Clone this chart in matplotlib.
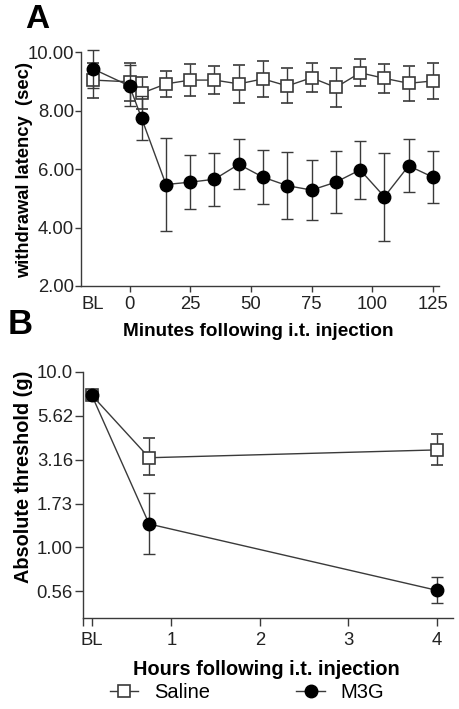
import matplotlib
matplotlib.use("Agg")
import matplotlib.pyplot as plt
import numpy as np
from matplotlib.lines import Line2D

plt.rcParams['font.family'] = ['Liberation Sans', 'DejaVu Sans']

# ---------- Panel A data ----------
a_times = [-15, 0, 5, 15, 25, 35, 45, 55, 65, 75, 85, 95, 105, 115, 125]
a_saline = [9.04, 8.98, 8.59, 8.91, 9.04, 9.04, 8.91, 9.08, 8.84, 9.12, 8.79, 9.29, 9.10, 8.93, 9.01]
a_saline_err = [0.60, 0.65, 0.55, 0.45, 0.55, 0.47, 0.65, 0.62, 0.60, 0.50, 0.68, 0.46, 0.50, 0.60, 0.63]
a_m3g = [9.42, 8.84, 7.73, 5.47, 5.55, 5.65, 6.16, 5.72, 5.43, 5.28, 5.55, 5.97, 5.05, 6.11, 5.72]
a_m3g_err = [0.65, 0.70, 0.75, 1.58, 0.93, 0.90, 0.85, 0.93, 1.15, 1.02, 1.05, 1.00, 1.50, 0.90, 0.88]
a_xticks = [-15, 0, 25, 50, 75, 100, 125]
a_xticklabels = ['BL', '0', '25', '50', '75', '100', '125']
a_yticks = [2, 4, 6, 8, 10]
a_yticklabels = ['2.00', '4.00', '6.00', '8.00', '10.00']

# ---------- Panel B data ----------
b_hours = [0.1, 0.75, 4]
b_saline = [7.38, 3.24, 3.59]
b_saline_lo = [7.0, 2.57, 2.95]
b_saline_hi = [7.8, 4.19, 4.43]
b_m3g = [7.40, 1.36, 0.57]
b_m3g_lo = [7.0, 0.916, 0.48]
b_m3g_hi = [7.8, 2.05, 0.676]
b_xticks = [0, 0.1, 1, 2, 3, 4]
b_xticklabels = ['', 'BL', '1', '2', '3', '4']
b_yticks = [10.0, 5.62, 3.16, 1.778, 1.00, 0.5623]
b_yticklabels = ['10.0', '5.62', '3.16', '1.73', '1.00', '0.56']

W, H = 459, 709
fig = plt.figure(figsize=(W / 100, H / 100), dpi=100)

LC = '#3a3a3a'
tick_fs = 13.3

def style(ax, tlen):
    for s in ['top', 'right']:
        ax.spines[s].set_visible(False)
    for s in ['left', 'bottom']:
        ax.spines[s].set_color(LC)
        ax.spines[s].set_linewidth(1.0)
    ax.tick_params(direction='out', length=tlen, width=1.0, color=LC,
                   labelsize=tick_fs, labelcolor='#222222')

# Panel A
axA = fig.add_axes([81 / W, 1 - 286 / H, (439 - 81) / W, (286 - 52) / H])
axA.errorbar(a_times, a_saline, yerr=a_saline_err, fmt='-s', color=LC, lw=1.0,
             ms=8, mfc='white', mec=LC, mew=1.2, ecolor=LC, elinewidth=1.0,
             capsize=4, capthick=1.0, clip_on=False, zorder=3, label='Saline')
axA.errorbar(a_times, a_m3g, yerr=a_m3g_err, fmt='-o', color=LC, lw=1.0,
             ms=9, mfc='black', mec='black', ecolor=LC, elinewidth=1.0,
             capsize=4, capthick=1.0, clip_on=False, zorder=4, label='M3G')
axA.set_xlim(-20, 127.5)
axA.set_ylim(2, 10)
axA.set_xticks(a_xticks)
axA.set_xticklabels(a_xticklabels)
axA.set_yticks(a_yticks)
axA.set_yticklabels(a_yticklabels)
style(axA, 4)
axA.tick_params(axis='y', pad=1)
axA.tick_params(axis='x', pad=3)
axA.xaxis.get_major_ticks()[0].tick1line.set_visible(False)
axA.set_xlabel('Minutes following i.t. injection', fontsize=13.6, fontweight='bold')
axA.xaxis.set_label_coords(0.494, (286 - 323) / 234)
axA.set_ylabel('withdrawal latency  (sec)', fontsize=13.2, fontweight='bold')
axA.yaxis.set_label_coords((33 - 81) / 358, (286 - 170) / 234)
fig.text(25 / W, 1 - 20 / H, 'A', fontsize=24, fontweight='bold', va='center', ha='left')

# Panel B
axB = fig.add_axes([82.7 / W, 1 - 618.3 / H, (453 - 82.7) / W, (618.3 - 371.7) / H])
yerr_s = [np.array(b_saline) - np.array(b_saline_lo), np.array(b_saline_hi) - np.array(b_saline)]
yerr_m = [np.array(b_m3g) - np.array(b_m3g_lo), np.array(b_m3g_hi) - np.array(b_m3g)]
axB.errorbar(b_hours, b_saline, yerr=yerr_s, fmt='-s', color=LC, lw=1.0,
             ms=9, mfc='white', mec=LC, mew=1.2, ecolor=LC, elinewidth=1.0,
             capsize=4, capthick=1.0, clip_on=False, zorder=3)
axB.errorbar(b_hours, b_m3g, yerr=yerr_m, fmt='-o', color=LC, lw=1.0,
             ms=9, mfc='black', mec='black', ecolor=LC, elinewidth=1.0,
             capsize=4, capthick=1.0, clip_on=False, zorder=4)
axB.set_yscale('log')
axB.set_xlim(0, 4.18)
axB.set_ylim(10 ** -0.403, 10.0)
axB.set_xticks(b_xticks)
axB.set_xticklabels(b_xticklabels)
axB.set_yticks(b_yticks)
axB.set_yticklabels(b_yticklabels)
axB.yaxis.set_minor_locator(matplotlib.ticker.NullLocator())
style(axB, 6)
axB.tick_params(axis='y', pad=1)
axB.tick_params(axis='x', pad=4)
axB.set_xlabel('Hours following i.t. injection', fontsize=14.3, fontweight='bold')
axB.xaxis.set_label_coords(0.495, (618.3 - 660) / 246.6)
axB.set_ylabel('Absolute threshold (g)', fontsize=14.3, fontweight='bold')
axB.yaxis.set_label_coords((33 - 82.7) / 370.3, (618.3 - 476.5) / 246.6)
fig.text(8 / W, 1 - 325 / H, 'B', fontsize=25, fontweight='bold', va='center', ha='left')

# Legend
h1 = Line2D([], [], color=LC, lw=1.0, marker='s', ms=9, mfc='white', mec=LC, mew=1.2)
h2 = Line2D([], [], color=LC, lw=1.0, marker='o', ms=9, mfc='black', mec='black')
fig.legend([h1, h2], ['Saline', 'M3G'], loc='center', bbox_to_anchor=(247 / W, 1 - 693 / H),
           ncol=2, frameon=False, fontsize=14.5, handlelength=1.4, columnspacing=4.3,
           handletextpad=0.8)

fig.savefig('out.png', dpi=100)
